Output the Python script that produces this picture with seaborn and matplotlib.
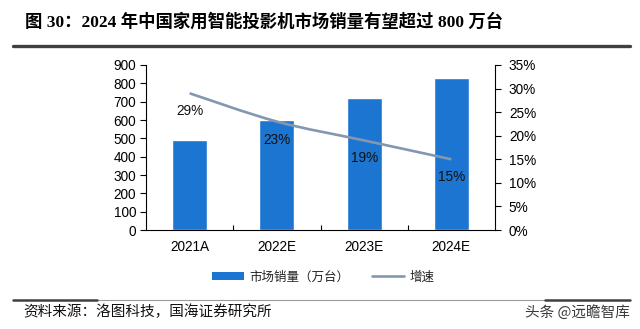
import numpy as np
import pandas as pd
import matplotlib
matplotlib.use("Agg")
import matplotlib.pyplot as plt
import seaborn as sns
from matplotlib.path import Path
from matplotlib.patches import PathPatch, Patch
from matplotlib.lines import Line2D
from matplotlib.ticker import FuncFormatter, FixedLocator

# ---- data ----
years = ["2021A", "2022E", "2023E", "2024E"]
sales = [490, 600, 718, 827]          # 万台
growth = [29, 23, 19, 15]             # %

BAR_COLOR = "#1C75D0"
LINE_COLOR = "#8497B0"
LATIN = "Liberation Sans"
CJK = "Noto Sans CJK SC"
TICK_SIZE = 9.8

sns.set_theme(style="white")
plt.rcParams["font.family"] = [LATIN, CJK, "DejaVu Sans"]
plt.rcParams["axes.unicode_minus"] = False

fig = plt.figure(figsize=(6.4, 3.29), dpi=100)
ax = fig.add_axes([146 / 640, 1 - 230 / 329, (495 - 146) / 640, (230 - 65) / 329])

df = pd.DataFrame({"year": years, "sales": sales})
sns.barplot(data=df, x="year", y="sales", color=BAR_COLOR, width=0.4,
            saturation=1, ax=ax)
ax.set_xlim(-0.5, len(years) - 0.5)
ax.set_ylim(0, 900)
ax.set_yticks(np.arange(0, 901, 100))
ax.set_xlabel("")
ax.set_ylabel("")

for s in ["top", "right"]:
    ax.spines[s].set_visible(False)
for s in ["left", "bottom"]:
    ax.spines[s].set_color("#000000")
    ax.spines[s].set_linewidth(0.8)

ax.tick_params(axis="y", direction="out", length=4, width=0.8, color="black",
               labelsize=TICK_SIZE, pad=3, left=True)
ax.tick_params(axis="x", which="major", length=0, labelsize=TICK_SIZE, pad=7)
ax.xaxis.set_minor_locator(FixedLocator([0.5, 1.5, 2.5]))
ax.tick_params(axis="x", which="minor", direction="in", length=3.5, width=0.8,
               color="black", bottom=True)
for lab in ax.get_xticklabels() + ax.get_yticklabels():
    lab.set_fontfamily(LATIN)
    lab.set_color("#000000")

# ---- growth rate on secondary axis ----
ax2 = ax.twinx()
ax2.set_ylim(0, 35)
ax2.set_yticks(np.arange(0, 36, 5))
ax2.yaxis.set_major_formatter(FuncFormatter(lambda v, p: f"{v:.0f}%"))
for s in ["top", "left", "bottom"]:
    ax2.spines[s].set_visible(False)
ax2.spines["right"].set_visible(True)
ax2.spines["right"].set_color("#000000")
ax2.spines["right"].set_linewidth(0.8)
ax2.tick_params(axis="y", direction="out", length=4, width=0.8, color="black",
                labelsize=TICK_SIZE, pad=6, right=True)
for lab in ax2.get_yticklabels():
    lab.set_fontfamily(LATIN)
    lab.set_color("#000000")
ax2.grid(False)
ax.grid(False)

# smoothed growth line (Catmull-Rom style Bezier through the data points)
xs = np.arange(len(growth), dtype=float)
ys = np.asarray(growth, dtype=float)
pts = np.column_stack([xs, ys])
ext = np.vstack([pts[0], pts, pts[-1]])
verts = [tuple(pts[0])]
codes = [Path.MOVETO]
for i in range(len(pts) - 1):
    p0, p1, p2, p3 = ext[i], ext[i + 1], ext[i + 2], ext[i + 3]
    c1 = p1 + (p2 - p0) / 6.0
    c2 = p2 - (p3 - p1) / 6.0
    verts += [tuple(c1), tuple(c2), tuple(p2)]
    codes += [Path.CURVE4] * 3
ax2.add_patch(PathPatch(Path(verts, codes), facecolor="none",
                        edgecolor=LINE_COLOR, lw=1.9, capstyle="butt"))

for x, g in zip(xs, growth):
    ax2.annotate(f"{g}%", (x, g), xytext=(0, -13), textcoords="offset points",
                 ha="center", va="center", fontsize=TICK_SIZE, color="#111111",
                 fontfamily=LATIN)

# ---- legend ----
handles = [Patch(facecolor=BAR_COLOR, edgecolor="none"),
           Line2D([0], [0], color=LINE_COLOR, lw=1.9)]
leg = fig.legend(handles, ["市场销量（万台）", "增速"], loc="center",
                 bbox_to_anchor=(0.505, 1 - 277 / 329), ncol=2, frameon=False,
                 handlelength=2.6, handleheight=0.55, handletextpad=0.4,
                 columnspacing=1.8, prop={"family": CJK, "size": 9})
for t in leg.get_texts():
    t.set_color("#222222")

# ---- title, rules and source ----
fig.text(25 / 640, 1 - 22 / 329,
         "图 30：2024 年中国家用智能投影机市场销量有望超过 800 万台",
         ha="left", va="center", fontsize=12.5, fontweight="bold",
         family=["Liberation Serif", CJK], color="#000000")
fig.add_artist(Line2D([13 / 640, 630 / 640], [1 - 45.5 / 329] * 2,
                      color="#404040", lw=2.4, transform=fig.transFigure))

fig.add_artist(Line2D([13 / 640, 630 / 640], [1 - 300 / 329] * 2,
                      color="#9a9a9a", lw=0.8, transform=fig.transFigure))
fig.add_artist(Line2D([13 / 640, 97 / 640], [1 - 300 / 329] * 2,
                      color="#404040", lw=1.8, transform=fig.transFigure))
fig.add_artist(Line2D([545 / 640, 630 / 640], [1 - 300 / 329] * 2,
                      color="#404040", lw=1.8, transform=fig.transFigure))

fig.text(23 / 640, 1 - 312 / 329, "资料来源：洛图科技，国海证券研究所",
         ha="left", va="center", fontsize=10.5, family=[CJK], color="#111111")
fig.text(630 / 640, 1 - 312 / 329, "头条 @远瞻智库",
         ha="right", va="center", fontsize=10.5, family=[CJK], color="#3a3a3a")

fig.savefig("out.png", dpi=100, facecolor="white")
